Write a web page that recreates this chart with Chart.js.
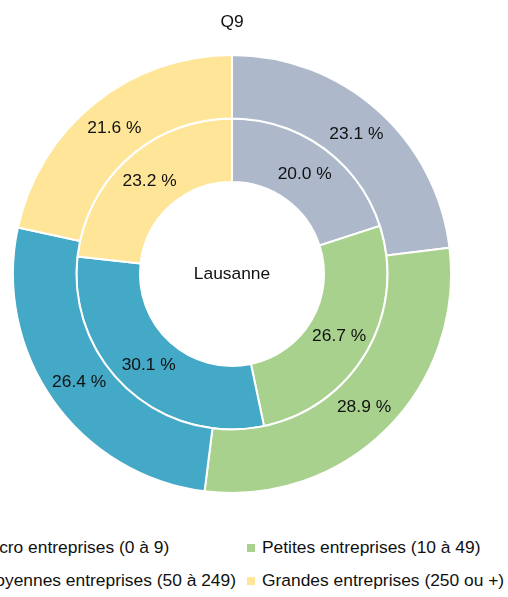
<!DOCTYPE html>
<html>
<head>
<meta charset="utf-8">
<script src="https://cdn.jsdelivr.net/npm/chart.js@4/dist/chart.umd.min.js"></script>
<style>
  html, body { margin: 0; padding: 0; background: #fff; overflow: hidden; }
  body { width: 508px; height: 597px; position: relative; font-family: "Liberation Sans", Arial, sans-serif; }
  #chart { position: absolute; left: 0; top: 0; }
  .legend-col { position: absolute; top: 531px; font-size: 17.4px; color: #111; white-space: nowrap; }
  .legend-col div { line-height: 33px; }
  .legend-col span.box { display: inline-block; width: 8px; height: 8px; margin-right: 7px; vertical-align: 1px; }
</style>
</head>
<body>
<canvas id="chart" width="464" height="494"></canvas>
<div class="legend-col" id="legendLeft" style="right: 272px;"></div>
<div class="legend-col" id="legendRight" style="left: 247px;"></div>
<script>
// categories, one colour each
const categories = ['Micro entreprises (0 à 9)', 'Petites entreprises (10 à 49)', 'Moyennes entreprises (50 à 249)', 'Grandes entreprises (250 ou +)'];
const colors = ['#ADB9CA', '#A9D18E', '#44A9C6', '#FFE598'];

// outer ring first, then inner ring (percent)
const outerValues = [23.1, 28.9, 26.4, 21.6];
const innerValues = [20.0, 26.7, 30.1, 23.2];

const titleText = 'Q9';
const centerText = 'Lausanne';
const fontFamily = '"Liberation Sans", Arial, sans-serif';

// percent labels in the middle of each arc
const arcLabels = {
    id: 'arcLabels',
    afterDatasetsDraw(chart) {
        const ctx = chart.ctx;
        ctx.save();
        ctx.font = '17.4px ' + fontFamily;
        ctx.fillStyle = '#111';
        ctx.textAlign = 'center';
        ctx.textBaseline = 'middle';
        chart.data.datasets.forEach((ds, i) => {
            chart.getDatasetMeta(i).data.forEach((arc, j) => {
                const p = arc.tooltipPosition();
                ctx.fillText(ds.data[j].toFixed(1) + ' %', p.x, p.y);
            });
        });
        // city name in the hole
        const area = chart.chartArea;
        ctx.fillText(centerText, (area.left + area.right) / 2, (area.top + area.bottom) / 2);
        ctx.restore();
    }
};

new Chart(document.getElementById('chart'), {
    type: 'doughnut',
    data: {
        labels: categories,
        datasets: [
            { label: 'Série 1', data: outerValues, backgroundColor: colors, borderColor: '#fff', borderWidth: 2 },
            { label: 'Série 2', data: innerValues, backgroundColor: colors, borderColor: '#fff', borderWidth: 2 }
        ]
    },
    options: {
        responsive: false,
        animation: false,
        events: [],
        cutout: '42%',
        layout: { padding: 0 },
        plugins: {
            legend: { display: false },
            tooltip: { enabled: false },
            title: {
                display: true,
                text: titleText,
                color: '#111',
                font: { family: fontFamily, size: 17.4, weight: 'normal' },
                padding: { top: 12, bottom: 21 }
            }
        }
    },
    plugins: [arcLabels]
});

// two-column legend under the chart
function legendItem(i) {
    const d = document.createElement('div');
    const box = document.createElement('span');
    box.className = 'box';
    box.style.background = colors[i];
    d.appendChild(box);
    d.appendChild(document.createTextNode(categories[i]));
    return d;
}
const left = document.getElementById('legendLeft');
const right = document.getElementById('legendRight');
categories.forEach((c, i) => {
    (i % 2 === 0 ? left : right).appendChild(legendItem(i));
});
</script>
</body>
</html>
